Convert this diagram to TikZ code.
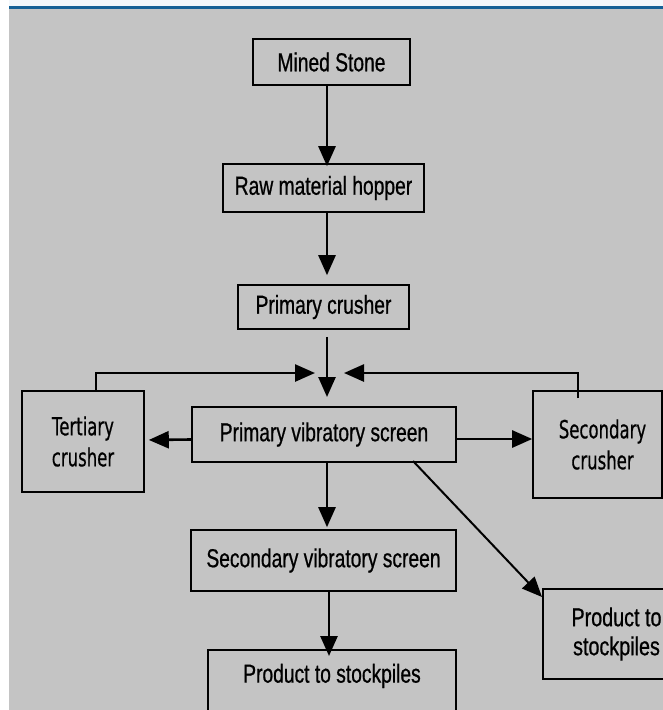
\documentclass[tikz,border=0pt]{standalone}
\usepackage{fontspec}
\setmainfont{Liberation Sans}[FakeStretch=0.74,FakeBold=0.7]
\newfontfamily\crfont{DejaVu Sans}[FakeStretch=0.66,FakeBold=0.5]
\newfontfamily\ptfont{Liberation Sans}[FakeStretch=0.76,FakeBold=0.7]
\usetikzlibrary{arrows.meta}
\definecolor{bg}{RGB}{196,196,196}
\definecolor{topblue}{RGB}{20,96,150}
\definecolor{topwhite}{RGB}{242,247,251}
\begin{document}
\begin{tikzpicture}[x=1pt,y=-1pt,
  box/.style={draw=black, line width=1.6pt, inner sep=0pt, font=\fontsize{26}{30}\selectfont, align=center},
  crbox/.style={box, font=\crfont\fontsize{25}{31}\selectfont},
  arr/.style={line width=2.6pt, -{Triangle[length=20pt,width=17pt]}},
  plain/.style={line width=2.6pt}]
\useasboundingbox (0,0) rectangle (663,710);
\clip (0,0) rectangle (663,710);
% background
\fill[white] (0,0) rectangle (663,710);
\fill[bg] (9,8) rectangle (663,710);
\fill[topwhite] (9,0) rectangle (663,6);
\fill[topblue] (9,6) rectangle (663,8.5);
% nodes
\node[box, minimum width=157pt, minimum height=46pt] (ms) at (331.5,62) {Mined Stone};
\node[box, minimum width=201pt, minimum height=48pt] (rh) at (323.5,188) {Raw material hopper};
\node[box, minimum width=171pt, minimum height=44pt] (pc) at (323.5,307) {Primary crusher};
\node[box, minimum width=264pt, minimum height=55pt] (pvs) at (324,434.5) {Primary vibratory screen};
\node[crbox, minimum width=122pt, minimum height=101pt] (tc) at (83,441.5) {Tertiary\\crusher};
\node[crbox, minimum width=129pt, minimum height=107pt] (sc) at (597.5,444.5) {\hspace*{10pt}Secondary\\\hspace*{10pt}crusher};
\node[box, minimum width=265pt, minimum height=61pt] (svs) at (323.5,560.5) {Secondary vibratory screen};
\node[box, anchor=north, inner ysep=14pt, text depth=40pt, minimum width=248pt] (p1) at (332,649) {Product to stockpiles};
\node[box, font=\ptfont\fontsize{26}{29}\selectfont, minimum width=147pt, minimum height=90pt] (p2) at (616.5,634) {Product to\\stockpiles};
% helper coordinates
\coordinate (ax) at (327,0);
\coordinate (mid) at (327,397);
\coordinate (tl) at (96,373);
\coordinate (tt) at (315,373);
\coordinate (sl) at (578,373);
\coordinate (st) at (344,373);
\coordinate (ds) at (413,461);
\coordinate (dt) at (542,597);
% connectors
\draw[arr] (ms.south -| ax) -- ([yshift=-3pt]rh.north -| ax);
\draw[arr] (rh.south -| ax) -- ([yshift=9pt]pc.north -| ax);
\draw[arr] (pc.south -| ax) ++(0,7) -- (mid);
\draw[arr] (tc.north -| tl) -- (tl) -- (tt);
\draw[arr] ([yshift=-8pt]sc.north -| sl) -- (sl) -- (st);
\draw[arr, shorten >=4pt] (pvs.west) ++(0,5) -- (tc.east |- 0,440);
\draw[arr] (pvs.east |- 0,439) -- (sc.west |- 0,439);
\draw[arr] (pvs.south -| ax) -- ([yshift=2pt]svs.north -| ax);
\draw[line width=2pt, -{Triangle[length=20pt,width=17pt]}] (ds) -- (dt);
\draw[arr] (svs.south -| 329,0) -- ([yshift=-7pt]p1.north -| 329,0);
\end{tikzpicture}
\end{document}
